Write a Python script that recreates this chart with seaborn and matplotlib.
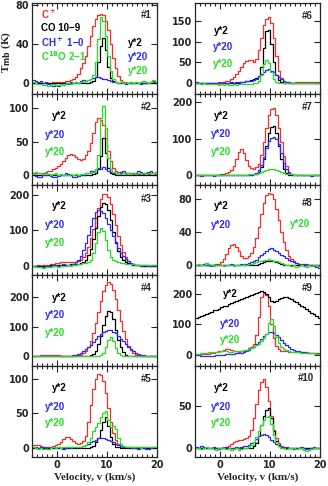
import numpy as np
import matplotlib
matplotlib.use("Agg")
import matplotlib.pyplot as plt
import seaborn as sns
from matplotlib.ticker import MultipleLocator, FixedLocator

# ---------------- data ----------------
velocity = np.arange(-4.75, 20.0, 0.5)  # channel centres (km/s)

red_1 = [0,0,0,0,0,0,0,0,1,1, 1,1,1,2,2,3,4,6,9,15, 21,28,38,48,58,66,70,71,70,64, 54,40,26,15,7,3,1,1,0,0, 0,0,0,1,0,0,0,1,1,0]
black_1 = [0,0,0,0,0,0,0,0,0,0, 0,0,0,0,0,0,0,0,0,0, 0,0,0,1,2,6,22,38,46,34, 16,5,2,1,0,0,0,0,0,0, 0,0,0,0,0,0,0,0,0,0]
blue_1 = [3,2,1,2,0,1,-1,-2,-3,-2, -3,-1,-2,0,-1,1,0,1,0,2, 3,2,3,4,5,6,6,5,4,4, 3,2,1,1,0,1,0,-1,0,1, 0,1,0,-1,0,1,0,1,2,1]
green_1 = [1,0,-1,-1,-2,-2,-3,-2,-1,-2, -2,-1,-2,-1,0,-1,0,1,0,1, 1,2,3,4,8,22,45,68,64,48, 28,12,4,1,0,1,0,1,0,1, 0,1,0,1,2,1,0,1,3,1]

red_2 = [2,2,2,3,3,4,5,6,8,10, 13,16,20,25,29,31,30,27,23,22, 24,29,36,48,63,80,86,83,75,55, 35,20,10,6,4,3,2,2,2,2, 1,2,1,2,1,2,1,2,2,1]
black_2 = [0,0,0,0,0,0,0,0,0,0, 0,0,0,0,0,0,0,0,0,0, 0,0,0,0,1,2,8,28,55,32, 10,3,1,0,0,0,0,0,0,0, 0,0,0,0,0,0,0,0,0,0]
blue_2 = [2,-2,-4,-3,-1,0,1,-2,-4,-3, -2,-1,0,2,1,-1,-3,-4,-2,-1, 0,2,3,5,6,8,10,9,11,8, 6,4,3,2,1,4,5,3,2,1, 2,3,5,4,2,3,4,6,3,4]
green_2 = [3,4,2,3,1,2,1,0,1,2, 0,1,0,-1,0,1,0,1,0,1, 1,2,2,3,4,8,30,85,104,70, 25,8,4,2,1,1,2,1,2,1, 2,1,2,3,2,1,2,3,2,4]

red_3 = [0,0,1,0,1,1,2,3,4,6, 8,10,11,11,10,10,10,11,13,17, 24,36,53,77,105,135,164,188,202,204, 194,174,146,115,85,59,39,24,14,8, 4,2,1,1,0,1,0,0,1,0]
black_3 = [0,0,0,0,0,0,0,1,1,1, 1,1,2,2,2,3,3,4,5,7, 10,16,29,48,75,108,140,166,178,175, 157,128,95,65,41,25,15,10,6,4, 2,1,1,0,0,0,0,0,0,0]
blue_3 = [0,-2,-4,-5,-3,-1,0,-2,1,2, 0,1,3,2,1,2,5,9,16,28, 44,64,88,113,136,151,158,156,148,135, 119,101,83,66,50,37,26,18,12,7, 4,2,1,0,2,1,-1,0,1,0]
green_3 = [-2,-3,-5,-4,-6,-5,-3,-4,-2,-1, -3,-2,-1,0,1,0,1,2,3,4, 6,8,11,17,36,64,95,108,98,72, 44,25,17,13,10,8,6,5,4,3, 3,2,2,1,2,1,1,2,1,1]

red_4 = [1,1,2,3,4,5,6,6,5,4, 3,2,2,1,2,1,1,2,3,5, 10,19,32,52,78,111,148,185,218,241, 250,244,223,192,156,118,84,57,36,21, 12,6,3,2,1,0,1,0,0,0]
black_4 = [0,0,0,0,0,0,0,0,0,0, 0,0,0,0,0,0,0,0,0,1, 1,2,2,3,8,19,40,69,105,137, 154,149,125,90,56,30,14,6,2,1, 0,0,0,0,0,0,0,0,0,0]
blue_4 = [1,0,1,2,1,2,1,2,1,0, 1,2,1,0,1,2,3,5,8,12, 17,24,31,39,49,58,67,75,82,86, 88,87,83,77,69,60,51,41,33,25, 18,13,9,6,4,2,1,0,1,0]
green_4 = [1,0,1,2,1,0,1,1,2,1, 0,1,0,1,2,1,0,1,1,0, 1,0,1,2,1,2,2,4,13,32, 56,65,51,27,11,4,2,1,0,1, 0,1,1,0,1,0,1,0,1,0]

red_5 = [5,5,4,3,2,2,2,2,3,4, 6,9,13,16,16,13,10,7,6,7, 10,18,38,62,85,100,107,105,96,80, 58,38,22,12,6,3,2,2,1,2, 1,2,1,1,2,1,2,1,2,1]
black_5 = [0,0,0,0,0,0,0,0,0,0, 0,0,0,0,0,0,0,0,0,0, 0,0,0,1,3,8,15,26,38,45, 32,16,6,2,1,0,0,0,0,0, 0,0,0,0,0,0,0,0,0,0]
blue_5 = [2,1,0,1,2,0,-1,0,1,0, 1,0,-1,0,1,0,1,2,1,2, 3,4,6,8,10,12,14,15,14,13, 12,10,8,6,4,3,2,1,2,1, 0,1,-1,0,1,-2,-1,0,1,2]
green_5 = [1,0,-1,0,-1,-2,-1,0,1,0, 1,0,1,2,1,2,1,2,1,2, 3,5,9,15,24,30,36,44,50,53, 40,31,32,28,15,6,3,2,1,2, 1,2,1,0,1,2,1,2,1,2]

red_6 = [0,0,0,0,0,0,1,1,1,2, 2,3,4,6,9,14,21,30,40,48, 54,57,55,50,58,80,110,140,155,160, 145,110,65,30,12,5,2,1,1,1, 2,2,2,3,3,3,3,3,3,3]
black_6 = [0,0,0,0,0,0,0,0,0,0, 0,0,0,0,0,0,0,0,2,3, 5,6,8,9,12,18,40,85,125,128, 95,52,20,7,3,1,0,0,0,0, 0,0,0,0,0,0,0,0,0,0]
blue_6 = [2,1,0,1,-1,0,1,0,-1,0, 1,0,0,1,2,1,2,2,3,3, 4,5,6,8,11,16,22,28,31,33, 30,26,20,14,9,5,3,2,1,1, 0,1,0,-1,0,1,0,1,0,-1]
green_6 = [0,-1,-2,-1,-2,-3,-2,-3,-3,-4, -3,-4,-3,-5,-4,-3,-4,-3,-3,-2, -3,-2,-2,-1,0,5,20,45,57,48, 28,10,2,0,0,1,0,-1,0,1, 0,0,1,0,-1,0,1,0,1,0]

red_7 = [0,1,0,0,1,0,1,1,2,2, 3,4,6,10,16,25,45,65,72,62, 42,27,20,18,22,32,55,90,130,165, 182,183,165,130,90,52,25,10,4,2, 1,1,0,1,1,0,1,1,0,1]
black_7 = [0,0,0,0,0,0,0,0,0,0, 0,0,0,0,0,0,0,0,0,0, 0,1,2,3,5,10,22,45,80,115, 132,135,115,80,45,18,6,2,1,0, 0,0,0,0,0,0,0,0,0,0]
blue_7 = [1,0,-1,0,1,2,0,-1,1,0, 1,0,1,2,0,1,0,1,2,1, 1,2,2,4,8,15,28,50,75,95, 102,104,100,85,60,35,17,7,3,2, 1,0,1,2,0,1,-1,0,1,0]
green_7 = [0,0,0,0,0,0,0,0,0,0, 0,0,0,0,0,0,0,0,1,2, 2,3,3,4,5,7,9,12,15,17, 18,17,15,12,9,7,5,4,3,2, 2,2,1,1,1,1,0,0,0,0]

red_8 = [0,0,1,0,0,1,1,1,2,2, 4,8,14,21,25,26,23,17,12,9, 9,11,15,22,33,47,62,76,85,88, 87,80,68,55,41,29,19,12,8,5, 3,2,2,1,2,1,1,1,1,0]
black_8 = [0,0,0,0,0,0,0,0,0,0, 0,0,0,0,0,0,0,0,0,0, 0,0,0,1,1,2,3,4,5,6, 6,5,4,3,2,1,1,0,0,0, 0,0,0,0,0,0,0,0,0,0]
blue_8 = [1,0,1,2,0,1,-1,0,1,0, 1,0,1,0,2,1,0,1,2,1, 2,3,4,5,7,10,13,15,18,20, 21,19,17,15,13,11,9,7,5,4, 3,2,1,2,0,1,0,-1,-2,-3]
green_8 = [1,2,0,1,3,2,0,-1,0,1, 0,-1,0,1,0,-1,0,1,0,1, 1,2,2,3,4,5,6,7,7,8, 7,6,5,4,3,2,1,0,-1,0, -2,-1,0,-1,-2,0,-1,0,1,-1]

red_9 = [3,3,4,4,5,5,6,7,9,12, 15,18,20,19,17,14,12,11,12,14, 18,22,28,35,65,125,190,203,195,160, 100,55,30,20,15,13,12,11,11,10, 10,10,9,9,9,8,8,8,8,8]
black_9 = [121,125,128,131,135,138,141,145,148,151, 155,158,161,165,168,171,175,178,181,185, 188,191,195,198,201,205,207,205,198,188, 177,172,175,182,187,189,188,185,181,176, 171,166,160,155,149,143,138,132,126,121]
blue_9 = [0,-1,-2,-3,-2,-4,-3,-2,-1,0, 1,2,3,4,4,5,6,7,8,10, 13,17,22,28,35,43,52,61,69,74, 75,72,66,58,49,40,32,26,21,17, 14,12,10,9,8,7,6,6,5,5]
green_9 = [4,5,6,7,8,9,10,10,11,11, 12,12,12,11,11,12,12,13,14,16, 18,20,24,28,32,36,45,55,70,105, 118,95,60,40,27,20,16,13,11,10, 9,9,8,8,7,7,6,6,5,5]

red_10 = [0,1,0,1,0,0,1,1,0,1, 1,2,2,3,5,7,9,10,10,11, 12,15,22,35,52,68,78,81,72,55, 38,22,12,6,3,2,1,1,1,0, 1,0,1,1,0,1,1,0,1,0]
black_10 = [0,0,0,0,0,0,0,0,0,0, 0,0,0,0,0,0,0,0,0,0, 0,0,1,3,6,14,27,38,45,47, 36,20,9,4,2,1,0,0,0,0, 0,0,0,0,0,0,0,0,0,0]
blue_10 = [2,1,3,2,1,0,1,2,0,-1, 1,0,2,1,0,1,2,1,2,3, 3,4,6,8,11,14,16,17,16,13, 10,7,5,3,2,1,2,1,0,-1, 0,1,2,0,-1,-2,1,2,0,1]
green_10 = [0,1,-1,0,2,1,0,-1,-2,0, 1,0,-1,0,-2,-1,0,-2,-1,0, 1,2,4,7,13,20,27,33,37,38, 28,16,8,3,1,0,-1,0,1,0, -1,0,1,-2,-3,-2,-1,0,1,0]

panel_names = ["#1", "#2", "#3", "#4", "#5", "#6", "#7", "#8", "#9", "#10"]
ylims = [(-11, 82), (-15, 122), (-28, 230), (-33, 272), (-13, 118),
         (-26, 194), (-25, 223), (-12, 98), (-36, 259), (-10, 96)]
yticks = [[0, 40, 80], [0, 50, 100], [0, 100, 200], [0, 100, 200], [0, 50, 100],
          [0, 50, 100, 150], [0, 100, 200], [0, 40, 80], [0, 100, 200], [0, 50]]
species = ["C$^+$", "CO 10\u22129", "CH$^+$ 1\u22120", "C$^{18}$O 2\u22121"]
scale_labels = ["y*2", "y*20", "y*20"]
x_ticks = [0, 10, 20]

series = {
    1: (red_1, black_1, blue_1, green_1), 2: (red_2, black_2, blue_2, green_2),
    3: (red_3, black_3, blue_3, green_3), 4: (red_4, black_4, blue_4, green_4),
    5: (red_5, black_5, blue_5, green_5), 6: (red_6, black_6, blue_6, green_6),
    7: (red_7, black_7, blue_7, green_7), 8: (red_8, black_8, blue_8, green_8),
    9: (red_9, black_9, blue_9, green_9), 10: (red_10, black_10, blue_10, green_10),
}

# ---------------- style ----------------
sns.set_style("ticks")
plt.rcParams["font.family"] = ["DejaVu Sans"]
plt.rcParams["font.weight"] = "bold"
plt.rcParams["mathtext.default"] = "bf"
colors = ["#ff2a2a", "#000000", "#2a2aff", "#22e022"]
txt_font = ["Liberation Sans", "DejaVu Sans"]

W, H = 328, 486
fig = plt.figure(figsize=(W / 100, H / 100), dpi=100)
top_px, row_h = 3.0, 90.8
col_x = [32, 195]
ax_w = 125

# text positions (axes fraction) per panel: (y*2 x,y), (blue x,y), (green x,y), (# x,y)
lab_pos = {
    1: [(0.77, 0.56), (0.77, 0.41), (0.77, 0.25), (0.96, 0.87)],
    2: [(0.16, 0.75), (0.10, 0.55), (0.10, 0.36), (0.96, 0.86)],
    3: [(0.16, 0.76), (0.10, 0.56), (0.10, 0.36), (0.96, 0.84)],
    4: [(0.16, 0.75), (0.10, 0.56), (0.10, 0.37), (0.96, 0.86)],
    5: [(0.16, 0.76), (0.10, 0.55), (0.10, 0.37), (0.96, 0.86)],
    6: [(0.15, 0.69), (0.14, 0.51), (0.14, 0.33), (0.94, 0.86)],
    7: [(0.15, 0.75), (0.13, 0.56), (0.13, 0.36), (0.94, 0.86)],
    8: [(0.15, 0.76), (0.13, 0.56), (0.76, 0.57), (0.94, 0.80)],
    9: [(0.22, 0.80), (0.20, 0.47), (0.20, 0.29), (0.94, 0.86)],
    10: [(0.15, 0.76), (0.13, 0.55), (0.13, 0.37), (0.95, 0.87)],
}

for p in range(1, 11):
    col = 0 if p <= 5 else 1
    row = (p - 1) % 5
    bottom_px = top_px + row_h * (row + 1)
    ax = fig.add_axes([col_x[col] / W, 1 - bottom_px / H, ax_w / W, row_h / H])
    for vals, c in zip(series[p], colors):
        sns.lineplot(x=velocity, y=vals, ax=ax, color=c, lw=0.9,
                     drawstyle="steps-mid", estimator=None, sort=False, legend=False)
    ax.set_xlim(-5, 20)
    ax.set_ylim(*ylims[p - 1])
    ax.xaxis.set_major_locator(FixedLocator(x_ticks))
    ax.xaxis.set_minor_locator(MultipleLocator(1))
    ax.yaxis.set_major_locator(FixedLocator(yticks[p - 1]))
    ax.tick_params(which="both", direction="in", top=True, right=True,
                   labelsize=7, pad=2, width=0.8)
    ax.tick_params(which="major", length=4)
    ax.tick_params(which="minor", length=2.5)
    for lab in ax.get_yticklabels() + ax.get_xticklabels():
        lab.set_fontweight("bold")
    for s in ax.spines.values():
        s.set_linewidth(0.9)
    ax.set_ylabel("")
    if row < 4:
        ax.tick_params(labelbottom=False)
        ax.set_xlabel("")
    else:
        ax.set_xlabel("Velocity, v (km/s)", family=["Liberation Serif", "DejaVu Serif"],
                      fontsize=8, fontweight="bold", labelpad=2)

    pos = lab_pos[p]
    if p == 1:
        for k, (name, c) in enumerate(zip(species, colors)):
            ax.text(0.075, [0.87, 0.72, 0.57, 0.42][k], name, color=c, transform=ax.transAxes,
                    fontsize=7, family=txt_font, fontweight="bold", va="center", ha="left")
    for k, (lab, c) in enumerate(zip(scale_labels, colors[1:])):
        ax.text(pos[k][0], pos[k][1], lab, color=c, transform=ax.transAxes,
                fontsize=7, family=txt_font, fontweight="bold", va="center", ha="left")
    ax.text(pos[3][0], pos[3][1], panel_names[p - 1], transform=ax.transAxes,
            fontsize=7, family=txt_font, fontweight="bold", va="center", ha="right")

fig.text(6 / W, 1 - 52 / H, "T$_{\\rm mb}$ (K)", rotation=90, ha="center", va="center",
         fontsize=8, family=["Liberation Serif", "DejaVu Serif"], fontweight="bold")

fig.savefig("out.png", dpi=100)
